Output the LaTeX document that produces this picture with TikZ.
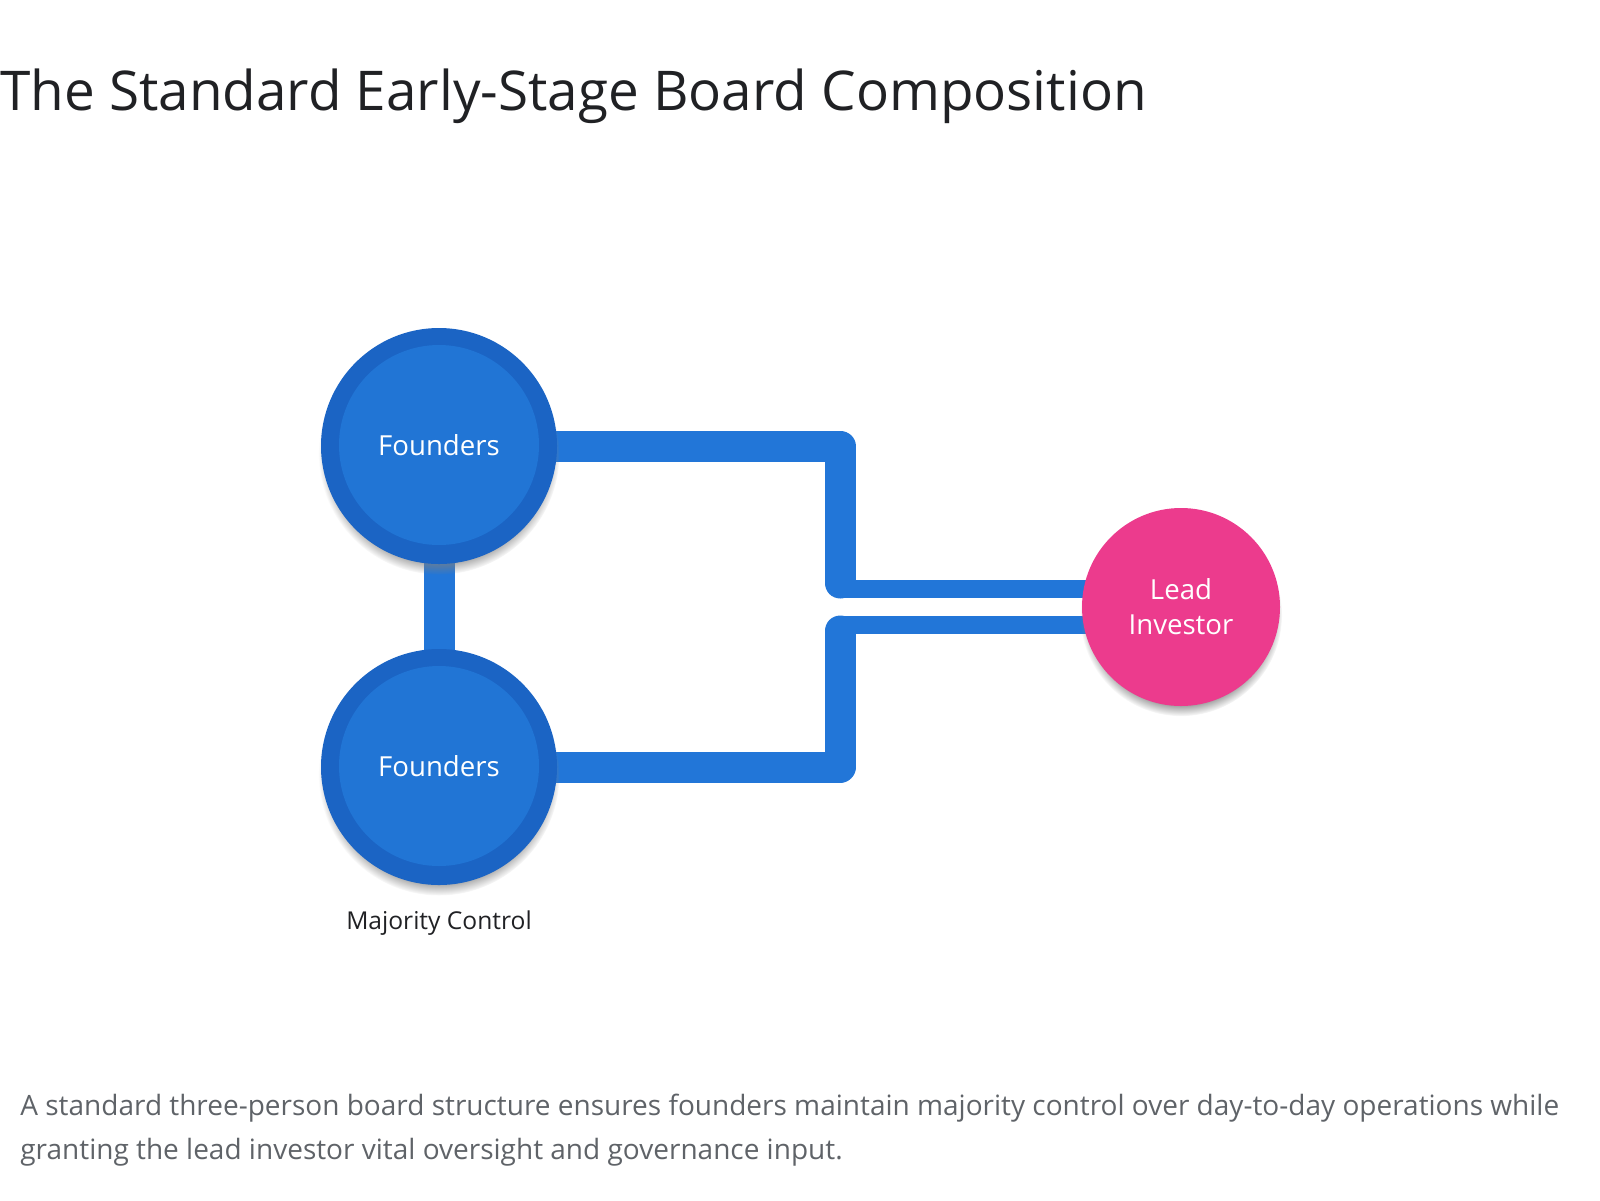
\documentclass[tikz,border=0pt]{standalone}
\usepackage{fontspec}
\setmainfont{Open Sans}
\usetikzlibrary{positioning, shadows}

\definecolor{boardring}{RGB}{27,100,196}
\definecolor{boardcore}{RGB}{33,117,213}
\definecolor{boardline}{RGB}{34,118,216}
\definecolor{boardpink}{RGB}{236,59,141}
\definecolor{inkdark}{RGB}{32,33,36}
\definecolor{inkgray}{RGB}{95,99,104}

\begin{document}
\begin{tikzpicture}[
    x=0.5pt, y=-0.5pt,
    ring/.style={circle, fill=boardring, minimum size=118pt, inner sep=0pt,
                 circular drop shadow={shadow xshift=0pt, shadow yshift=-4pt,
                                       shadow scale=1.02}},
    core/.style={circle, fill=boardcore, minimum size=100pt, inner sep=0pt,
                 text=white, font=\fontsize{13.8}{16}\selectfont},
    investor/.style={circle, fill=boardpink, minimum size=99pt, inner sep=0pt,
                     text=white, align=center, font=\fontsize{13.8}{17.5}\selectfont,
                     circular drop shadow={shadow xshift=0pt, shadow yshift=-4pt,
                                           shadow scale=1.02}},
    bus/.style={draw=boardline, line width=15.5pt, line join=round, line cap=round},
    tie/.style={draw=boardline, line width=9pt},
    txt/.style={inner sep=0pt, anchor=base west}
]
\useasboundingbox (0,0) rectangle (1600,1200);

% Title
\node[txt, font=\fontsize{27.4}{34}\selectfont, text=inkdark] (title) at (0,110)
    {The Standard Early-Stage Board Composition};

% Junction points
\coordinate (j1) at (840,583);
\coordinate (k1) at (840,589);
\coordinate (j2) at (840,631);
\coordinate (k2) at (840,625);
\coordinate (f1c) at (439,446);
\coordinate (f2c) at (439,767);
\coordinate (leadc) at (1181,607);

% Connections
\draw[bus] (f1c) -- (f2c);
\draw[bus] (f1c) -| (j1);
\draw[bus] (f2c) -| (j2);
\draw[tie] (k1) -- (k1 -| leadc);
\draw[tie] (k2) -- (k2 -| leadc);

% Board members
\node[ring] (f1) at (f1c) {};
\node[core] (f1t) at ([yshift=0.5pt]f1.center) {Founders};
\node[ring] (f2) at (f2c) {};
\node[core] (f2t) at ([yshift=0.5pt]f2.center) {Founders};
\node[investor] (lead) at (leadc) {Lead\\Investor};

% Labels
\node[inner sep=0pt, anchor=base, font=\fontsize{12.3}{14}\selectfont, text=inkdark]
    (majority) at (439,929) {Majority Control};

% Caption
\node[txt, font=\fontsize{14}{22}\selectfont, text=inkgray] (cap1) at (20,1115)
    {A standard three-person board structure ensures founders maintain majority control over day-to-day operations while};
\node[txt, font=\fontsize{14}{22}\selectfont, text=inkgray] (cap2) at (20,1159)
    {granting the lead investor vital oversight and governance input.};
\end{tikzpicture}
\end{document}
